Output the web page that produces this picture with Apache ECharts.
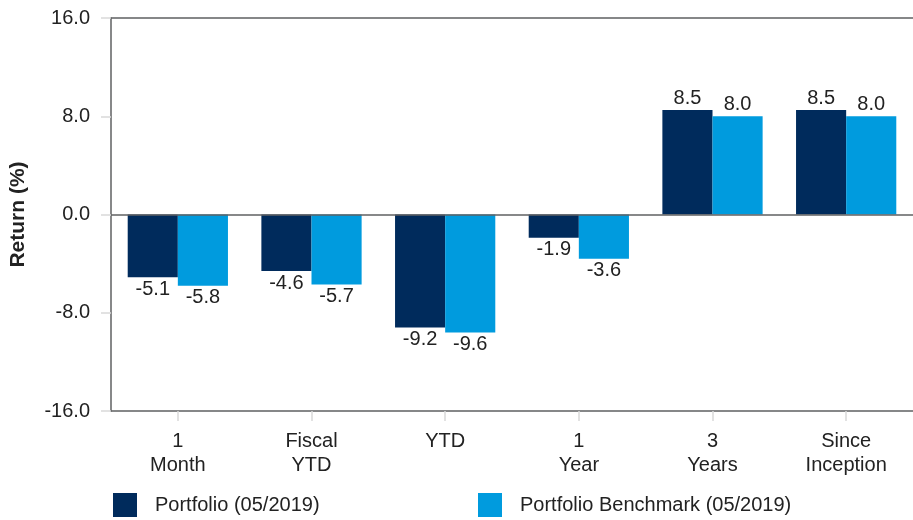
<!DOCTYPE html>
<html>
<head>
<meta charset="utf-8">
<script src="https://cdn.jsdelivr.net/npm/echarts@6/dist/echarts.min.js"></script>
<style>
html, body { margin: 0; padding: 0; background: #fff; }
#chart { width: 913px; height: 520px; }
</style>
</head>
<body>
<div id="chart"></div>
<script>
// 类目和数据
var categories = ['1\nMonth', 'Fiscal\nYTD', 'YTD', '1\nYear', '3\nYears', 'Since\nInception'];
var portfolio = [-5.1, -4.6, -9.2, -1.9, 8.5, 8.5];
var benchmark = [-5.8, -5.7, -9.6, -3.6, 8.0, 8.0];
var seriesNames = ['Portfolio (05/2019)', 'Portfolio Benchmark (05/2019)'];
var colorArr = ['#002B5C', '#009BDE'];

var font = 'Arial, "Liberation Sans", sans-serif';
var lineColor = '#5f6062';

// 负值标签放到柱子下面
function toBarData(values) {
    return values.map(function (v) {
        return {
            value: v,
            label: { position: v < 0 ? 'bottom' : 'top' }
        };
    });
}

function legendItem(name, left) {
    return {
        left: left,
        top: 493,
        padding: 0,
        itemWidth: 24,
        itemHeight: 24,
        icon: 'rect',
        data: [name],
        textStyle: { fontFamily: font, fontSize: 20, color: '#222', padding: [0, 0, 0, 13] }
    };
}

var myChart = echarts.init(document.getElementById('chart'));
var option = {
    animation: false,
    color: colorArr,
    grid: {
        left: 110,
        right: 0,
        top: 18,
        bottom: 109
    },
    legend: [legendItem(seriesNames[0], 113), legendItem(seriesNames[1], 478)],
    xAxis: [{
        type: 'category',
        data: categories,
        position: 'bottom',
        axisLine: { onZero: false, lineStyle: { color: lineColor, width: 1.5 } },
        axisTick: { show: true, alignWithLabel: true, length: 10, lineStyle: { color: '#d9d9d9', width: 1.5 } },
        axisLabel: {
            interval: 0,
            margin: 18,
            fontFamily: font,
            fontSize: 20,
            lineHeight: 24,
            color: '#222'
        }
    }, {
        // 顶部边框线
        type: 'category',
        data: categories,
        position: 'top',
        axisLine: { onZero: false, lineStyle: { color: lineColor, width: 1.5 } },
        axisTick: { show: false },
        axisLabel: { show: false }
    }],
    yAxis: {
        type: 'value',
        min: -16,
        max: 16,
        interval: 8,
        name: 'Return (%)',
        nameLocation: 'middle',
        nameGap: 82,
        nameTextStyle: { fontFamily: font, fontSize: 21, fontWeight: 'bold', color: '#222' },
        axisLine: { show: true, lineStyle: { color: lineColor, width: 1.5 } },
        axisTick: { show: true, length: 10, lineStyle: { color: '#d9d9d9', width: 1.5 } },
        splitLine: { show: false },
        axisLabel: {
            margin: 21,
            fontFamily: font,
            fontSize: 20,
            color: '#222',
            formatter: function (v) { return v.toFixed(1); }
        }
    },
    series: [{
        name: seriesNames[0],
        type: 'bar',
        xAxisIndex: 0,
        barGap: 0,
        barCategoryGap: '25%',
        label: {
            show: true,
            distance: 2,
            fontFamily: font,
            fontSize: 20,
            color: '#222',
            formatter: function (p) { return p.value.toFixed(1); }
        },
        data: toBarData(portfolio),
        markLine: {
            silent: true,
            symbol: 'none',
            label: { show: false },
            lineStyle: { color: lineColor, width: 1.5, type: 'solid' },
            data: [{ yAxis: 0 }]
        }
    }, {
        name: seriesNames[1],
        type: 'bar',
        xAxisIndex: 0,
        barGap: 0,
        barCategoryGap: '25%',
        label: {
            show: true,
            distance: 2,
            fontFamily: font,
            fontSize: 20,
            color: '#222',
            formatter: function (p) { return p.value.toFixed(1); }
        },
        data: toBarData(benchmark)
    }]
};
myChart.setOption(option);
</script>
</body>
</html>
